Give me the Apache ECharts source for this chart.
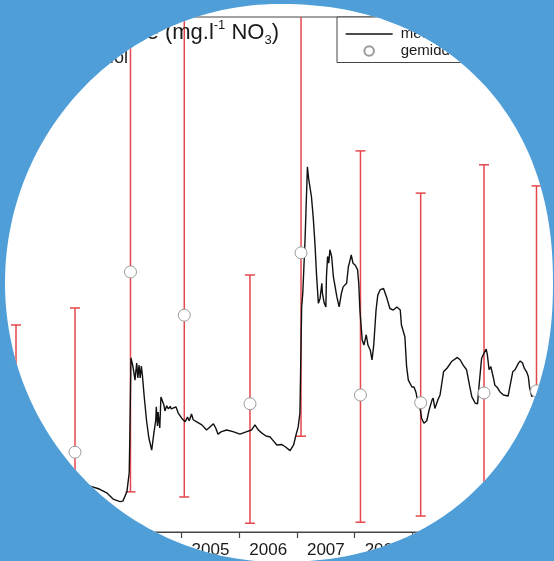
<!DOCTYPE html>
<html>
<head>
<meta charset="utf-8">
<script src="https://cdn.jsdelivr.net/npm/echarts/dist/echarts.min.js"></script>
<style>
  html, body { margin: 0; padding: 0; width: 554px; height: 561px; overflow: hidden; background: #4f9ed8; }
  #mask { position: absolute; left: 0; top: 0; width: 554px; height: 561px; background: #fff; overflow: hidden;
          clip-path: ellipse(274px 279px at 279px 283px); }
  #chart { position: absolute; left: -60px; top: 0; width: 660px; height: 561px; }
</style>
</head>
<body>
<div id="mask"><div id="chart"></div></div>
<script>
// x-axis year categories (labels centred between yearly ticks)
const years = ['2001','2002','2003','2004','2005','2006','2007','2008','2009','2010','2011'];

// continuous series (decimal year, mg/l NO3)
const lineYears = [2001.00,2001.85,2002.54,2003.15,2003.41,2003.53,2003.58,2003.70,2003.81,2003.93,
  2003.98,2004.05,2004.09,2004.10,2004.12,2004.13,2004.15,2004.17,2004.19,2004.22,
  2004.24,2004.26,2004.28,2004.30,2004.32,2004.35,2004.39,2004.43,2004.48,2004.52,
  2004.55,2004.56,2004.58,2004.59,2004.62,2004.64,2004.67,2004.69,2004.71,2004.74,
  2004.77,2004.80,2004.82,2004.85,2004.90,2004.94,2005.00,2005.06,2005.10,2005.13,
  2005.17,2005.20,2005.26,2005.35,2005.43,2005.49,2005.55,2005.59,2005.63,2005.69,
  2005.78,2005.89,2006.01,2006.13,2006.21,2006.27,2006.33,2006.39,2006.47,2006.53,
  2006.59,2006.65,2006.73,2006.79,2006.88,2006.94,2006.99,2007.02,2007.05,2007.08,
  2007.10,2007.14,2007.16,2007.18,2007.185,2007.20,2007.22,2007.25,2007.28,2007.31,
  2007.34,2007.37,2007.40,2007.43,2007.44,2007.47,2007.50,2007.51,2007.53,2007.55,
  2007.57,2007.60,2007.63,2007.69,2007.73,2007.77,2007.80,2007.86,2007.89,2007.92,
  2007.94,2007.97,2008.01,2008.05,2008.07,2008.09,2008.11,2008.13,2008.16,2008.20,
  2008.23,2008.27,2008.30,2008.33,2008.37,2008.40,2008.44,2008.50,2008.55,2008.61,
  2008.67,2008.73,2008.79,2008.81,2008.87,2008.90,2008.93,2008.99,2009.03,2009.06,
  2009.09,2009.13,2009.16,2009.20,2009.25,2009.29,2009.34,2009.36,2009.39,2009.41,
  2009.44,2009.48,2009.54,2009.60,2009.68,2009.78,2009.83,2009.88,2009.94,2009.99,
  2010.03,2010.09,2010.13,2010.16,2010.20,2010.24,2010.28,2010.30,2010.33,2010.36,
  2010.40,2010.43,2010.47,2010.52,2010.58,2010.66,2010.69,2010.74,2010.78,2010.84,
  2010.87,2010.91,2010.94,2010.98,2011.01,2011.03,2011.07,2011.10,2011.14,2011.30,
  2011.56];
const lineValues = [9.1,8.5,8.2,8.7,8.9,8.5,8.3,7.6,6.4,5.9,
  6.0,7.8,11.5,17.9,33.8,34.0,32.4,31.1,29.5,32.8,
  29.9,32.4,29.9,32.2,30.3,26.3,21.7,18.3,15.9,19.4,
  21.7,24.3,20.6,23.3,20.2,26.2,26.4,24.7,23.5,24.5,
  23.9,24.4,23.9,24.2,24.3,23.1,22.1,21.4,22.3,21.6,
  22.9,21.8,21.4,20.8,19.8,20.4,21.0,20.2,19.0,19.5,
  19.8,19.5,19.0,19.5,19.8,20.8,19.8,19.2,18.6,18.5,
  17.7,16.9,17.0,16.6,15.8,16.9,19.2,20.4,23.1,43.7,
  46.4,57.1,57.3,70.9,71.1,68.7,69.0,65.1,61.2,56.1,
  49.6,44.4,45.4,48.3,46.4,44.5,43.7,49.6,53.5,52.2,
  54.8,53.5,49.6,45.7,43.7,46.4,47.6,48.3,51.5,52.8,
  53.8,52.2,51.8,50.9,48.3,43.1,40.2,37.3,36.3,38.3,
  36.3,35.3,33.4,36.3,43.1,46.0,47.0,47.3,45.7,43.4,
  43.1,43.7,43.1,40.2,37.9,32.1,29.5,28.2,28.1,27.2,
  25.6,24.3,22.1,21.1,21.6,23.7,25.6,26.0,24.0,23.9,
  25.6,26.6,31.1,31.8,33.1,33.9,33.4,32.4,31.5,28.5,
  26.3,25.0,24.9,28.9,33.7,34.7,35.5,34.4,31.5,32.1,
  30.2,28.5,28.1,27.2,26.6,26.4,28.2,31.1,31.5,32.8,
  33.2,32.8,31.8,31.1,30.2,28.2,26.3,26.0,26.9,26.6,
  27.6];

// yearly averages with spread
const meanYears  = [2002.127, 2003.150, 2004.112, 2005.045, 2006.184, 2007.069, 2008.100, 2009.144, 2010.242, 2011.152];
const meanValues = [16.9, 15.5, 50.5, 42.1, 24.9, 54.2, 26.6, 25.1, 27.0, 27.4];
const errLow     = [1.4, 1.9, 7.8, 6.8, 1.7, 18.6, 1.9, 3.1, 5.2, 5.2];
const errHigh    = [40.2, 43.5, 104, 108, 49.9, 102, 74.0, 65.8, 71.3, 67.2];

// --- decorative round frame: ellipse on the left, slightly squarer on the right ---
(function () {
  const cx = 279, cy = 283, a = 274, b = 279, N = 240;
  const out = [];
  for (let i = 0; i < N; i++) {
    const t = (i / N) * Math.PI * 2;
    const c = Math.cos(t), s = Math.sin(t);
    const n = c > 0 ? 2.2 : 2.0;
    const e = 2 / n;
    const x = cx + a * Math.sign(c) * Math.pow(Math.abs(c), e);
    const y = cy + b * Math.sign(s) * Math.pow(Math.abs(s), e);
    out.push(x.toFixed(2) + 'px ' + y.toFixed(2) + 'px');
  }
  document.getElementById('mask').style.clipPath = 'polygon(' + out.join(',') + ')';
})();

const FONT = "'Liberation Sans', Arial, sans-serif";
const RED = '#e4474c';

function renderErr(params, api) {
  const x = api.value(0), lo = api.value(1), hi = api.value(2);
  const cs = params.coordSys;
  const pLo = api.coord([x, lo]);
  const pHi = api.coord([x, hi]);
  const top = cs.y, bottom = cs.y + cs.height;
  const yHi = Math.max(pHi[1], top), yLo = Math.min(pLo[1], bottom);
  const st = { stroke: RED, lineWidth: 1.5 };
  const ch = [{ type: 'line', shape: { x1: pLo[0], y1: yLo, x2: pLo[0], y2: yHi }, style: st }];
  if (pHi[1] >= top) ch.push({ type: 'line', shape: { x1: pHi[0] - 5, y1: pHi[1], x2: pHi[0] + 5, y2: pHi[1] }, style: st });
  if (pLo[1] <= bottom) ch.push({ type: 'line', shape: { x1: pLo[0] - 5, y1: pLo[1], x2: pLo[0] + 5, y2: pLo[1] }, style: st });
  return { type: 'group', children: ch };
}

const chart = echarts.init(document.getElementById('chart'), null, { renderer: 'canvas' });
chart.setOption({
  animation: false,
  backgroundColor: 'transparent',
  title: {
    text: '{a|Nitraatconcentratie (mg.l}{sup|-1}{a| NO}{sub|3}{a|)}',
    right: 321, top: 19, padding: 0,
    textStyle: {
      fontWeight: 'normal',
      rich: {
        a:   { fontFamily: FONT, fontSize: 22, fontWeight: 'normal', color: '#1a1a1a', lineHeight: 28 },
        sup: { fontFamily: FONT, fontSize: 13, fontWeight: 'normal', color: '#1a1a1a', lineHeight: 13, verticalAlign: 'top' },
        sub: { fontFamily: FONT, fontSize: 13, fontWeight: 'normal', color: '#1a1a1a', lineHeight: 13, verticalAlign: 'bottom' }
      }
    }
  },
  graphic: [{
    type: 'text', right: 660 - 188, top: 49,
    style: { text: 'Mol', font: "18px 'Liberation Sans', Arial, sans-serif", fill: '#1a1a1a' }
  }],
  legend: {
    left: 397, top: 17, orient: 'vertical',
    data: [
      { name: 'meting', itemStyle: { opacity: 0 }, lineStyle: { color: '#111', width: 1.3 } },
      { name: 'gemiddelde' }
    ],
    padding: [9.5, 70, 4, 8],
    itemGap: 2, itemWidth: 47, itemHeight: 9.5,
    borderColor: '#444', borderWidth: 1, backgroundColor: '#fff',
    textStyle: { fontFamily: FONT, fontSize: 15, color: '#1a1a1a', padding: [0, 0, 0, 3] }
  },
  grid: { left: 11, right: 14.6, top: 17, bottom: 29, show: true, borderColor: '#444', borderWidth: 1, backgroundColor: 'transparent' },
  xAxis: [{
    type: 'category', data: years, boundaryGap: true, position: 'bottom',
    axisLine: { lineStyle: { color: '#444', width: 1.2 } },
    axisTick: { show: true, interval: 0, length: 6, lineStyle: { color: '#444', width: 1.2 } },
    axisLabel: { interval: 0, fontFamily: FONT, fontSize: 17, color: '#1a1a1a', margin: 10 },
    splitLine: { show: false }
  }, {
    type: 'value', min: 2001, max: 2012, show: false, splitLine: { show: false }
  }],
  yAxis: { type: 'value', min: 0, max: 100, show: false, splitLine: { show: false } },
  series: [{
    name: 'spreiding', type: 'custom', xAxisIndex: 1, yAxisIndex: 0,
    renderItem: renderErr, z: 1,
    data: meanYears.map((x, i) => [x, errLow[i], errHigh[i]]),
    encode: { x: 0, y: [1, 2] }
  }, {
    name: 'meting', type: 'line', xAxisIndex: 1, yAxisIndex: 0, z: 2,
    data: lineYears.map((x, i) => [x, lineValues[i]]),
    showSymbol: false, symbol: 'none', smooth: false,
    lineStyle: { color: '#111', width: 1.4 }, itemStyle: { color: '#111' }
  }, {
    name: 'gemiddelde', type: 'scatter', xAxisIndex: 1, yAxisIndex: 0, z: 3,
    data: meanYears.map((x, i) => [x, meanValues[i]]),
    symbol: 'circle', symbolSize: 12,
    itemStyle: { color: '#fff', borderColor: '#9a9a9a', borderWidth: 1, opacity: 1 }
  }]
});
</script>
</body>
</html>
